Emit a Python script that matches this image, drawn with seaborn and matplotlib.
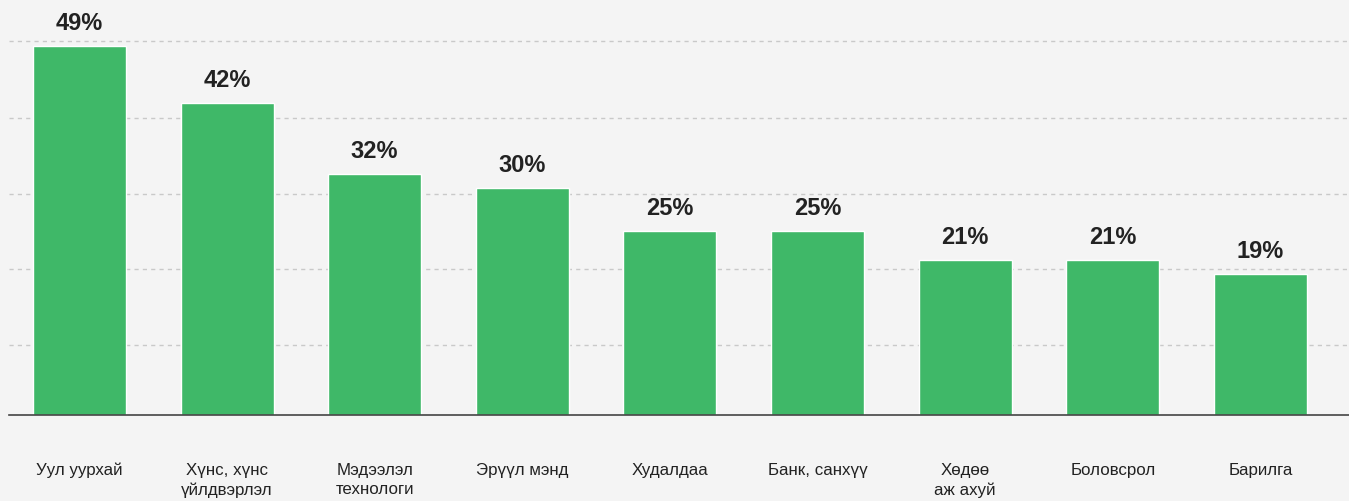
import matplotlib
matplotlib.use("Agg")
import matplotlib.pyplot as plt
import seaborn as sns
import pandas as pd

# data
categories = ["Уул уурхай", "Хүнс, хүнс\nүйлдвэрлэл", "Мэдээлэл\nтехнологи", "Эрүүл мэнд",
              "Худалдаа", "Банк, санхүү", "Хөдөө\nаж ахуй", "Боловсрол", "Барилга"]
values = [49.5, 41.9, 32.3, 30.5, 24.7, 24.7, 20.8, 20.8, 18.9]
value_labels = ["49%", "42%", "32%", "30%", "25%", "25%", "21%", "21%", "19%"]
grid_ticks = [9.4, 19.6, 29.7, 39.9, 50.1]

bg = "#f4f4f4"
green = "#3fb868"

sns.set_style("white")
plt.rcParams["font.family"] = ["Liberation Sans", "DejaVu Sans"]

df = pd.DataFrame({"category": categories, "value": values})

fig = plt.figure(figsize=(13.49, 5.02), dpi=100, facecolor=bg)
ax = fig.add_axes([9 / 1349, 86 / 502, 1340 / 1349, 416 / 502])
ax.set_facecolor(bg)

sns.barplot(data=df, x="category", y="value", color=green, width=0.63,
            saturation=1, ax=ax)

ax.set_xlim(-0.477, 8.6)
ax.set_ylim(0, 55.8)
ax.set_yticks(grid_ticks)
ax.set_yticklabels([])
ax.tick_params(axis="y", length=0)
ax.grid(axis="y", color="#c9c9c9", linestyle=(0, (3, 3)), linewidth=1)
ax.set_axisbelow(True)

for s in ["top", "right", "left"]:
    ax.spines[s].set_visible(False)
ax.spines["bottom"].set_color("#444444")
ax.spines["bottom"].set_linewidth(1.2)

ax.set_xlabel("")
ax.set_ylabel("")
ax.tick_params(axis="x", length=0, pad=33.5, labelsize=12.2, labelcolor="#222222")
for t in ax.get_xticklabels():
    t.set_linespacing(1.4)

ax.bar_label(ax.containers[0], labels=value_labels, padding=8.5,
             fontsize=17, fontweight="bold", color="#222222")

fig.savefig("out.png", dpi=100, facecolor=bg)
